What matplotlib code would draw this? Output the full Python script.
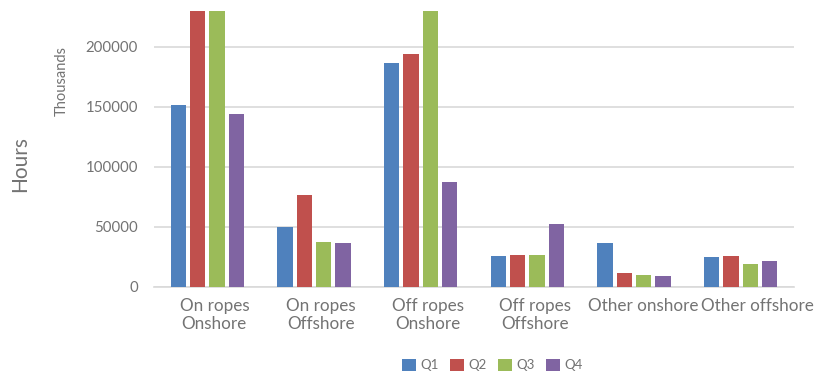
import matplotlib
matplotlib.use("Agg")
import matplotlib.pyplot as plt
import matplotlib.transforms as mtransforms
import numpy as np

categories = ["On ropes\nOnshore", "On ropes\nOffshore", "Off ropes\nOnshore",
              "Off ropes\nOffshore", "Other onshore", "Other offshore"]
series_names = ["Q1", "Q2", "Q3", "Q4"]
q1 = [152000, 50000, 187000, 25600, 36900, 25000]
q2 = [260000, 76500, 194000, 26700, 11700, 25800]
q3 = [255000, 37100, 240000, 26700, 9700, 19200]
q4 = [144000, 36300, 87700, 52200, 9400, 21700]
yticks = [0, 50000, 100000, 150000, 200000]
colors = ["#4F81BD", "#C0504D", "#9BBB59", "#8064A2"]

plt.rcParams['font.family'] = ['Lato', 'DejaVu Sans']
txt = "#737373"

fig = plt.figure(figsize=(8.3, 3.76), dpi=100)
ax = fig.add_axes([154/830, (376-287)/376, (794-154)/830, (287-11)/376])

x = np.arange(len(categories))
pitch = 0.181
bw = 0.143
for i, (vals, name) in enumerate(zip([q1, q2, q3, q4], series_names)):
    ax.bar(x + (i - 1.5) * pitch, vals, width=bw, color=colors[i], label=name,
           zorder=3, linewidth=0)

ax.set_xlim(-0.5, len(categories) - 0.5)
ax.set_ylim(0, 230000)
ax.set_yticks(yticks)
ax.set_yticklabels([str(v) for v in yticks], fontsize=10.8, color=txt)
ax.set_xticks(x)
ax.set_xticklabels(categories, fontsize=12.3, color=txt, linespacing=1.15)
ax.tick_params(axis='x', length=0, pad=8)
ax.tick_params(axis='y', length=0, pad=11.5)
ax.grid(axis='y', color="#D9D9D9", linewidth=1.2, zorder=0)
for s in ["top", "right", "left"]:
    ax.spines[s].set_visible(False)
ax.spines["bottom"].set_color("#D9D9D9")
ax.spines["bottom"].set_linewidth(1.2)

# Excel places category labels slightly right of the group centres
shifts_px = [7, 7, 7, 8, 9, 17]
for lab, dx in zip(ax.get_xticklabels(), shifts_px):
    lab.set_transform(lab.get_transform() +
                      mtransforms.ScaledTranslation(dx / 100, 0, fig.dpi_scale_trans))

fig.text(20/830, 1 - 164/376, "Hours", rotation=90, ha='center', va='center',
         fontsize=15, color=txt)
fig.text(62/830, 1 - 81/376, "Thousands", rotation=90, ha='center', va='center',
         fontsize=10.5, color=txt)

leg = fig.legend(loc='center', bbox_to_anchor=(492/830, 1 - 365/376), ncol=4,
                 frameon=False, fontsize=9.5, handlelength=1.1, handleheight=1.1,
                 handletextpad=0.3, columnspacing=0.85, labelcolor=txt)

fig.savefig("out.png", dpi=100)
